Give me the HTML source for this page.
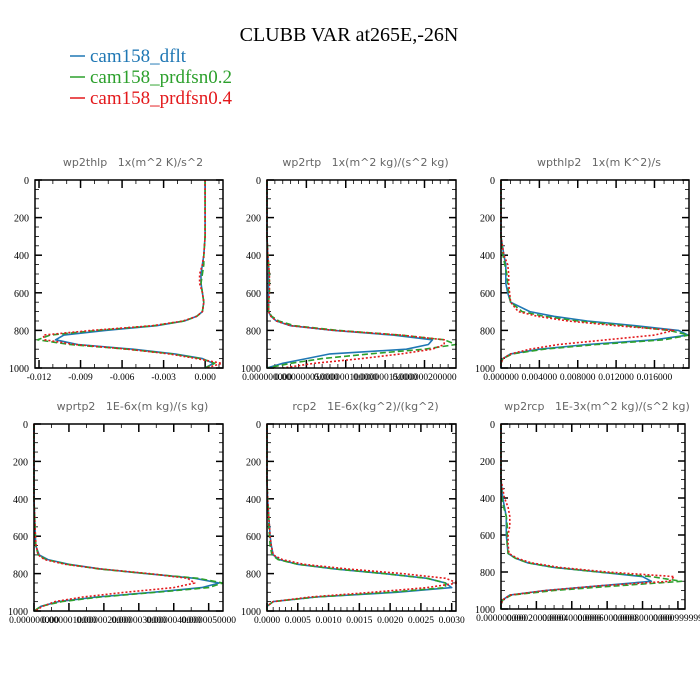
<!DOCTYPE html>
<html><head><meta charset="utf-8">
<style>
html,body{margin:0;padding:0;background:#fff;}
svg{display:block;}
.pt{white-space:pre;}
</style></head>
<body>
<svg id="chart" width="700" height="700" xmlns="http://www.w3.org/2000/svg">
<rect width="700" height="700" fill="#fff"/>
<text x="349" y="41" text-anchor="middle" font-family="Liberation Serif, serif" font-size="20" fill="#000">CLUBB VAR at265E,-26N</text>
<g font-family="Liberation Serif, serif" font-size="19">
<g><line x1="70" y1="56" x2="85" y2="56" stroke="#1f77b4" stroke-width="1.5"/><text x="90" y="62" fill="#1f77b4">cam158_dflt</text></g>
<g><line x1="70" y1="77" x2="85" y2="77" stroke="#2ca02c" stroke-width="1.5"/><text x="90" y="83" fill="#2ca02c">cam158_prdfsn0.2</text></g>
<g><line x1="70" y1="98" x2="85" y2="98" stroke="#e3191c" stroke-width="1.5"/><text x="90" y="104" fill="#e3191c">cam158_prdfsn0.4</text></g>
</g>
<g id="panels"></g>
</svg>
<script>
// pressure levels (hPa)
const levels = [0,100,200,300,400,450,500,550,600,650,700,725,750,775,800,825,850,875,900,925,950,975,1000];
const yTicks = [0,200,400,600,800,1000];
const seriesNames = ["cam158_dflt","cam158_prdfsn0.2","cam158_prdfsn0.4"];

// panel 1: wp2thlp
const p1Blue  = [0,0,0,0,-0.0001,-0.0002,-0.0003,-0.0003,-0.0002,-0.0001,-0.0002,-0.0006,-0.0015,-0.0035,-0.0072,-0.0102,-0.0108,-0.0092,-0.0052,-0.0022,-0.0002,0.0006,0.0];
const p1Green = [0,0,0,0,-0.0001,-0.0001,-0.0002,-0.0003,-0.0002,-0.0001,-0.0002,-0.0006,-0.0015,-0.0037,-0.0078,-0.0112,-0.0121,-0.0098,-0.0056,-0.0024,-0.0003,0.0007,0.0];
const p1Red   = [0,0,0,0,-0.0001,-0.0002,-0.0004,-0.0004,-0.0002,-0.0001,-0.0002,-0.0006,-0.0016,-0.0038,-0.0082,-0.0117,-0.0116,-0.0094,-0.0056,-0.0026,-0.0006,0.0012,0.0001];
const p1Ticks = [-0.012,-0.009,-0.006,-0.003,0.0];
const p1TickLabels = ["-0.012","-0.009","-0.006","-0.003","0.000"];

// panel 2: wp2rtp (scaled 1e-6)
const p2Blue  = [0,0,0,0,0.001,0.002,0.002,0.002,0.002,0.002,0.002,0.005,0.012,0.03,0.085,0.16,0.21,0.205,0.177,0.08,0.05,0.02,0.0];
const p2Green = [0,0,0,0,0.001,0.002,0.003,0.003,0.003,0.002,0.002,0.006,0.015,0.035,0.09,0.17,0.225,0.24,0.2,0.13,0.07,0.03,0.0];
const p2Red   = [0,0,0,0,0.001,0.002,0.003,0.003,0.003,0.002,0.002,0.005,0.012,0.03,0.085,0.17,0.225,0.225,0.21,0.17,0.12,0.06,0.02];
const p2Ticks = [0,0.05,0.10,0.15,0.20];
const p2TickLabels = ["0.000000000","0.000000050000","0.000000100000","0.000000150000","0.000000200000"];

// panel 3: wpthlp2
const p3Blue  = [0,0,0,0,0.0003,0.0005,0.0005,0.0005,0.0007,0.001,0.003,0.0055,0.009,0.014,0.0185,0.0195,0.016,0.009,0.004,0.001,0.0002,0.0,0];
const p3Green = [0,0,0,0,0.0002,0.0004,0.0006,0.0007,0.0008,0.001,0.0022,0.0045,0.008,0.013,0.0175,0.0196,0.017,0.01,0.0045,0.0012,0.0002,0.0,0];
const p3Red   = [0,0,0,0,0.0003,0.0007,0.0008,0.0008,0.0009,0.001,0.0018,0.0038,0.007,0.012,0.018,0.016,0.011,0.006,0.003,0.001,0.0002,0.0,0];
const p3Ticks = [0,0.004,0.008,0.012,0.016];
const p3TickLabels = ["0.000000","0.004000","0.008000","0.012000","0.016000"];

// panel 4: wprtp2 (scaled 1e-6)
const p4Blue  = [0,0,0,0,0,0.01,0.02,0.03,0.04,0.05,0.15,0.4,1.0,1.9,3.2,4.6,5.3,4.8,3.4,1.8,0.7,0.2,0];
const p4Green = [0,0,0,0,0,0.01,0.02,0.03,0.04,0.05,0.12,0.35,0.95,1.85,3.2,4.7,5.4,5.0,3.5,1.9,0.8,0.2,0];
const p4Red   = [0,0,0,0,0,0.01,0.02,0.03,0.04,0.06,0.12,0.3,0.9,1.9,3.3,4.4,4.6,4.0,2.6,1.4,0.6,0.25,0.03];
const p4Ticks = [0,1,2,3,4,5];
const p4TickLabels = ["0.000000000","0.0000010000","0.0000020000","0.0000030000","0.0000040000","0.0000050000"];

// panel 5: rcp2
const p5Blue  = [0,0,0,0,0.00001,0.00002,0.00003,0.00004,0.00005,0.00007,0.0001,0.0002,0.0005,0.0011,0.0019,0.0026,0.0029,0.0030,0.0021,0.0008,0.0001,0,0];
const p5Green = [0,0,0,0,0.00001,0.00002,0.00003,0.00003,0.00004,0.00005,0.00008,0.00018,0.0005,0.0011,0.0019,0.0026,0.0029,0.0029,0.0020,0.0008,0.0001,0,0];
const p5Red   = [0,0,0,0,0.00001,0.00002,0.00003,0.00004,0.00005,0.00007,0.0001,0.00025,0.0006,0.0013,0.0022,0.0029,0.0031,0.0026,0.0017,0.0007,0.0001,0,0];
const p5Ticks = [0,0.0005,0.001,0.0015,0.002,0.0025,0.003];
const p5TickLabels = ["0.0000","0.0005","0.0010","0.0015","0.0020","0.0025","0.0030"];

// panel 6: wp2rcp (scaled 1e-3)
const p6Blue  = [0,0,0,0,0.01,0.02,0.03,0.03,0.03,0.035,0.04,0.08,0.15,0.3,0.55,0.8,0.85,0.55,0.25,0.05,0.01,0,0];
const p6Green = [0,0,0,0,0.005,0.015,0.03,0.035,0.035,0.035,0.04,0.08,0.15,0.3,0.55,0.85,1.02,0.65,0.3,0.06,0.01,0,0];
const p6Red   = [0,0,0,0,0.02,0.04,0.05,0.05,0.04,0.04,0.045,0.09,0.17,0.33,0.6,0.98,0.95,0.55,0.25,0.05,0.01,0,0];
const p6Ticks = [0,0.2,0.4,0.6,0.8,1.0];
const p6TickLabels = ["0.000000000","0.00020000000","0.00040000000","0.00060000000","0.00080000000","0.000999999"];

const panels = [
  {name:"wp2thlp", title:"wp2thlp   1x(m^2 K)/s^2", x0:35,x1:223,y0:180,y1:368, xmin:-0.01229, xmax:0.00129, s:[p1Blue,p1Green,p1Red], ticks:p1Ticks, labels:p1TickLabels, minor:0.001},
  {name:"wp2rtp", title:"wp2rtp   1x(m^2 kg)/(s^2 kg)", x0:267,x1:456,y0:180,y1:368, xmin:0, xmax:0.24, s:[p2Blue,p2Green,p2Red], ticks:p2Ticks, labels:p2TickLabels, minor:0.01},
  {name:"wpthlp2", title:"wpthlp2   1x(m K^2)/s", x0:501,x1:689,y0:180,y1:368, xmin:0, xmax:0.0196, s:[p3Blue,p3Green,p3Red], ticks:p3Ticks, labels:p3TickLabels, minor:0.001},
  {name:"wprtp2", title:"wprtp2   1E-6x(m kg)/(s kg)", x0:34,x1:223,y0:424,y1:611, xmin:0, xmax:5.41, s:[p4Blue,p4Green,p4Red], ticks:p4Ticks, labels:p4TickLabels, minor:0.5},
  {name:"rcp2", title:"rcp2   1E-6x(kg^2)/(kg^2)", x0:267,x1:456,y0:424,y1:611, xmin:0, xmax:0.00307, s:[p5Blue,p5Green,p5Red], ticks:p5Ticks, labels:p5TickLabels, minor:0.0001},
  {name:"wp2rcp", title:"wp2rcp   1E-3x(m^2 kg)/(s^2 kg)", x0:501,x1:685,y0:424,y1:609, xmin:0, xmax:1.04, s:[p6Blue,p6Green,p6Red], ticks:p6Ticks, labels:p6TickLabels, minor:0.05}
];
const colors = ["#1f77b4","#2ca02c","#e3191c"];
const dashes = ["", "6,3", "2,2"];
const NS = "http://www.w3.org/2000/svg";
const root = document.getElementById("panels");
function mk(tag, attrs, parent){const e=document.createElementNS(NS,tag);for(const k in attrs)e.setAttribute(k,attrs[k]);parent.appendChild(e);return e;}

panels.forEach(p=>{
  const g = mk("g",{},root);
  
  
  const xs = v => p.x0 + (v-p.xmin)/(p.xmax-p.xmin)*(p.x1-p.x0);
  const ys = v => p.y0 + v/1000*(p.y1-p.y0);
  const t = mk("text",{x:(p.x0+p.x1)/2+4,y:p.y0-14,"text-anchor":"middle","font-family":"DejaVu Sans, sans-serif","font-size":"11",fill:"#666","class":"pt"},g);
  t.textContent = p.title;
  
  
  for(let v=0; v<=1000; v+=50){
    const y=ys(v); const major=v%200===0; const len=major?7:4;
    mk("line",{x1:p.x0,y1:y,x2:p.x0+len,y2:y,stroke:"#000","stroke-width":major?1.5:0.8},g);
    mk("line",{x1:p.x1,y1:y,x2:p.x1-len,y2:y,stroke:"#000","stroke-width":major?1.5:0.8},g);
  }
  yTicks.forEach(v=>{
    const l=mk("text",{x:p.x0-6,y:ys(v)+4,"text-anchor":"end","font-family":"Liberation Serif, serif","font-size":"10",fill:"#000"},g);
    l.textContent=v;
    
    
  });
  const start = Math.ceil(p.xmin/p.minor - 1e-6);
  for(let k=start; k*p.minor<=p.xmax+1e-12; k++){
    const x=xs(k*p.minor);
    mk("line",{x1:x,y1:p.y1,x2:x,y2:p.y1-4,stroke:"#000","stroke-width":0.8},g);
    mk("line",{x1:x,y1:p.y0,x2:x,y2:p.y0+4,stroke:"#000","stroke-width":0.8},g);
  }
  p.ticks.forEach((v,i)=>{
    const x=xs(v);
    mk("line",{x1:x,y1:p.y1,x2:x,y2:p.y1-8,stroke:"#000","stroke-width":1.5},g);
    mk("line",{x1:x,y1:p.y0,x2:x,y2:p.y0+8,stroke:"#000","stroke-width":1.5},g);
    const l=mk("text",{x:x,y:p.y1+12,"text-anchor":"middle","font-family":"Liberation Serif, serif","font-size":"9.5",fill:"#000"},g);
    l.textContent=p.labels[i];
    
    
  });
  p.s.forEach((arr,si)=>{
    const pts = arr.map((v,i)=>xs(v).toFixed(1)+","+ys(levels[i]).toFixed(1)).join(" ");
    const a={points:pts,fill:"none",stroke:colors[si],"stroke-width":1.6,"stroke-linejoin":"round"};
    if(dashes[si]) a["stroke-dasharray"]=dashes[si];
    const pl=mk("polyline",a,g);
    
    
  });
  const fr=mk("rect",{x:p.x0,y:p.y0,width:p.x1-p.x0,height:p.y1-p.y0,fill:"none",stroke:"#000","stroke-width":1.5},g);
  
  
});
</script>
</body></html>
